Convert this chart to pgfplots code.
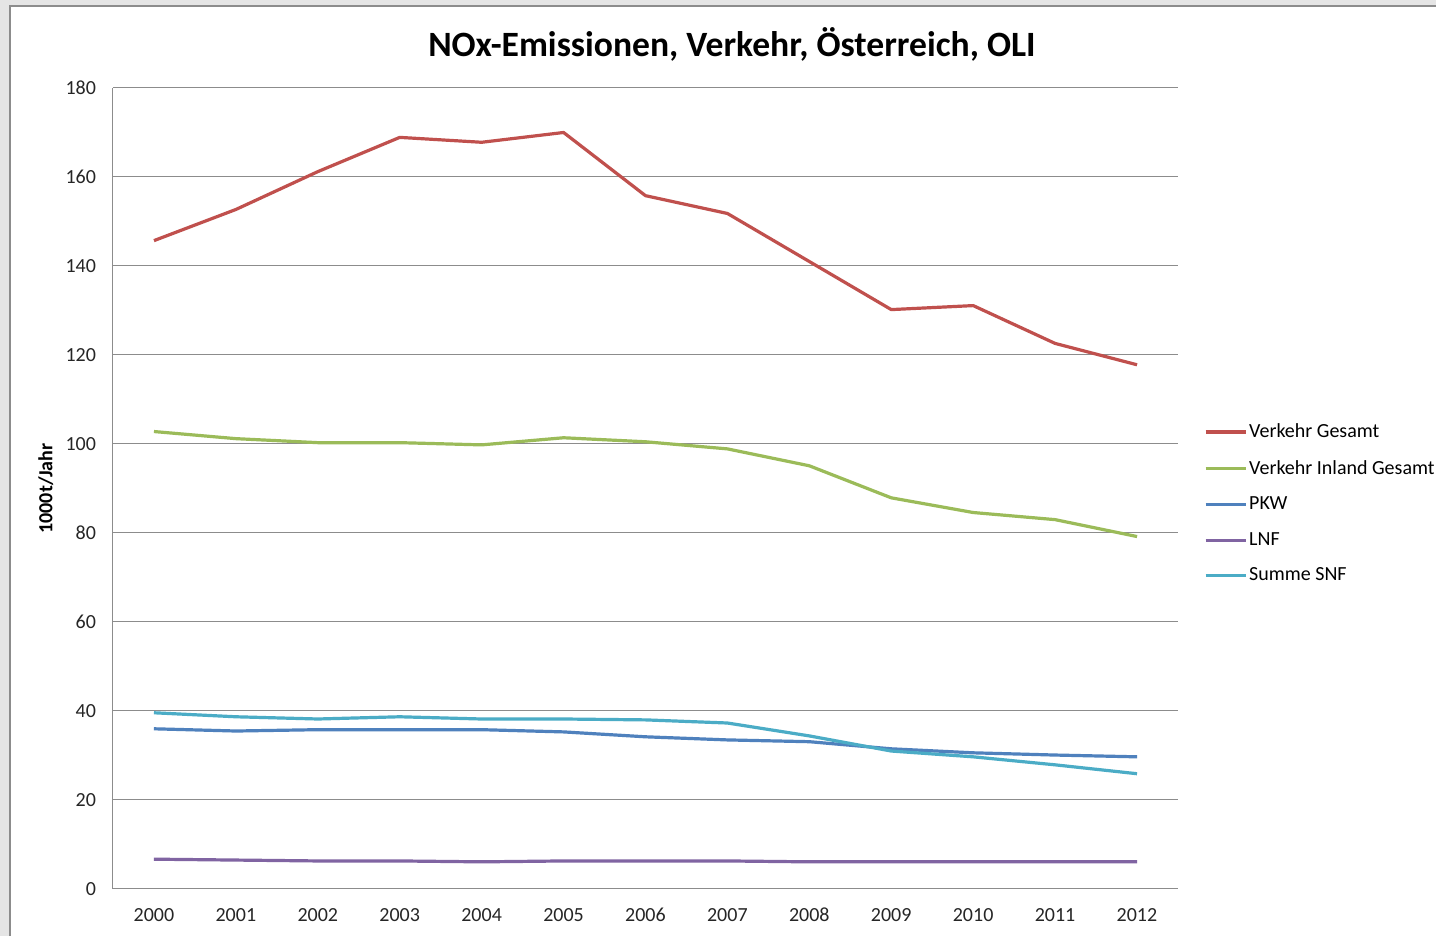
\documentclass[border=0pt]{standalone}
\usepackage{pgfplots}
\pgfplotsset{compat=1.18}
\usepackage{fontspec}
\setmainfont{Carlito}
\definecolor{cRed}{HTML}{C0504D}
\definecolor{cGreen}{HTML}{9BBB59}
\definecolor{cBlue}{HTML}{4F81BD}
\definecolor{cPurple}{HTML}{8064A2}
\definecolor{cTeal}{HTML}{4BACC6}
\definecolor{cGrid}{HTML}{8C8C8C}
\begin{document}
\begin{tikzpicture}[x=1pt,y=1pt]
\useasboundingbox (0,0) rectangle (718,468);
\fill[black!10] (0,0) rectangle (718,468);
\fill[white] (5,0) rectangle (718,465);
\draw[cGrid,line width=1pt] (5,0) -- (5,465) -- (718,465);
\node[font=\bfseries\fontsize{17.8}{21}\selectfont] at (366,446) {NOx-Emissionen, Verkehr, Österreich, OLI};
\begin{axis}[
  at={(56.5pt,23.5pt)}, anchor=south west,
  scale only axis, width=532.5pt, height=400.5pt,
  xmin=1999.5, xmax=2012.5, ymin=0, ymax=180,
  xtick={2000,...,2012}, ytick={0,20,...,180},
  xticklabel style={/pgf/number format/1000 sep={}},
  /pgf/number format/assume math mode=true,
  tick label style={font=\fontsize{10}{12}\selectfont, text=black!85},
  major tick length=0pt,
  yticklabel style={xshift=-5pt},
  xticklabel style={yshift=-6pt},
  axis x line*=bottom, axis y line*=left,
  axis line style={cGrid, line width=0.5pt, -},
  ymajorgrids, grid style={cGrid, line width=0.5pt},
  ylabel={\textbf{1000t/Jahr}},
  ylabel style={font=\fontsize{10}{12}\selectfont, at={(axis description cs:-0.063,0.5)}, anchor=center},
  legend style={draw=none, fill=none, at={(axis description cs:1.0184,0.589)}, anchor=north west,
    font=\fontsize{10}{12}\selectfont, row sep=7.85pt, column sep=0pt, nodes={inner sep=1pt}},
  legend cell align=left,
  legend image code/.code={\draw[#1] (0pt,0pt) -- (20pt,0pt);},
  every axis plot/.append style={line width=1.6pt, line join=round},
]
\addplot[cRed] coordinates {(2000,145.7)(2001,152.7)(2002,161.2)(2003,168.9)(2004,167.8)(2005,170.0)(2006,155.8)(2007,151.8)(2008,141.0)(2009,130.2)(2010,131.1)(2011,122.6)(2012,117.8)};
\addlegendentry{Verkehr Gesamt}
\addplot[cGreen] coordinates {(2000,102.8)(2001,101.2)(2002,100.3)(2003,100.3)(2004,99.8)(2005,101.4)(2006,100.5)(2007,98.9)(2008,95.1)(2009,87.9)(2010,84.6)(2011,83.0)(2012,79.2)};
\addlegendentry{Verkehr Inland Gesamt}
\addplot[cBlue] coordinates {(2000,36.0)(2001,35.5)(2002,35.8)(2003,35.8)(2004,35.8)(2005,35.3)(2006,34.2)(2007,33.5)(2008,33.1)(2009,31.5)(2010,30.6)(2011,30.1)(2012,29.7)};
\addlegendentry{PKW}
\addplot[cPurple] coordinates {(2000,6.7)(2001,6.5)(2002,6.3)(2003,6.3)(2004,6.1)(2005,6.3)(2006,6.3)(2007,6.3)(2008,6.1)(2009,6.1)(2010,6.1)(2011,6.1)(2012,6.1)};
\addlegendentry{LNF}
\addplot[cTeal] coordinates {(2000,39.6)(2001,38.7)(2002,38.2)(2003,38.7)(2004,38.2)(2005,38.2)(2006,38.0)(2007,37.3)(2008,34.4)(2009,31.0)(2010,29.7)(2011,27.9)(2012,25.9)};
\addlegendentry{Summe SNF}
\end{axis}
\end{tikzpicture}
\end{document}
